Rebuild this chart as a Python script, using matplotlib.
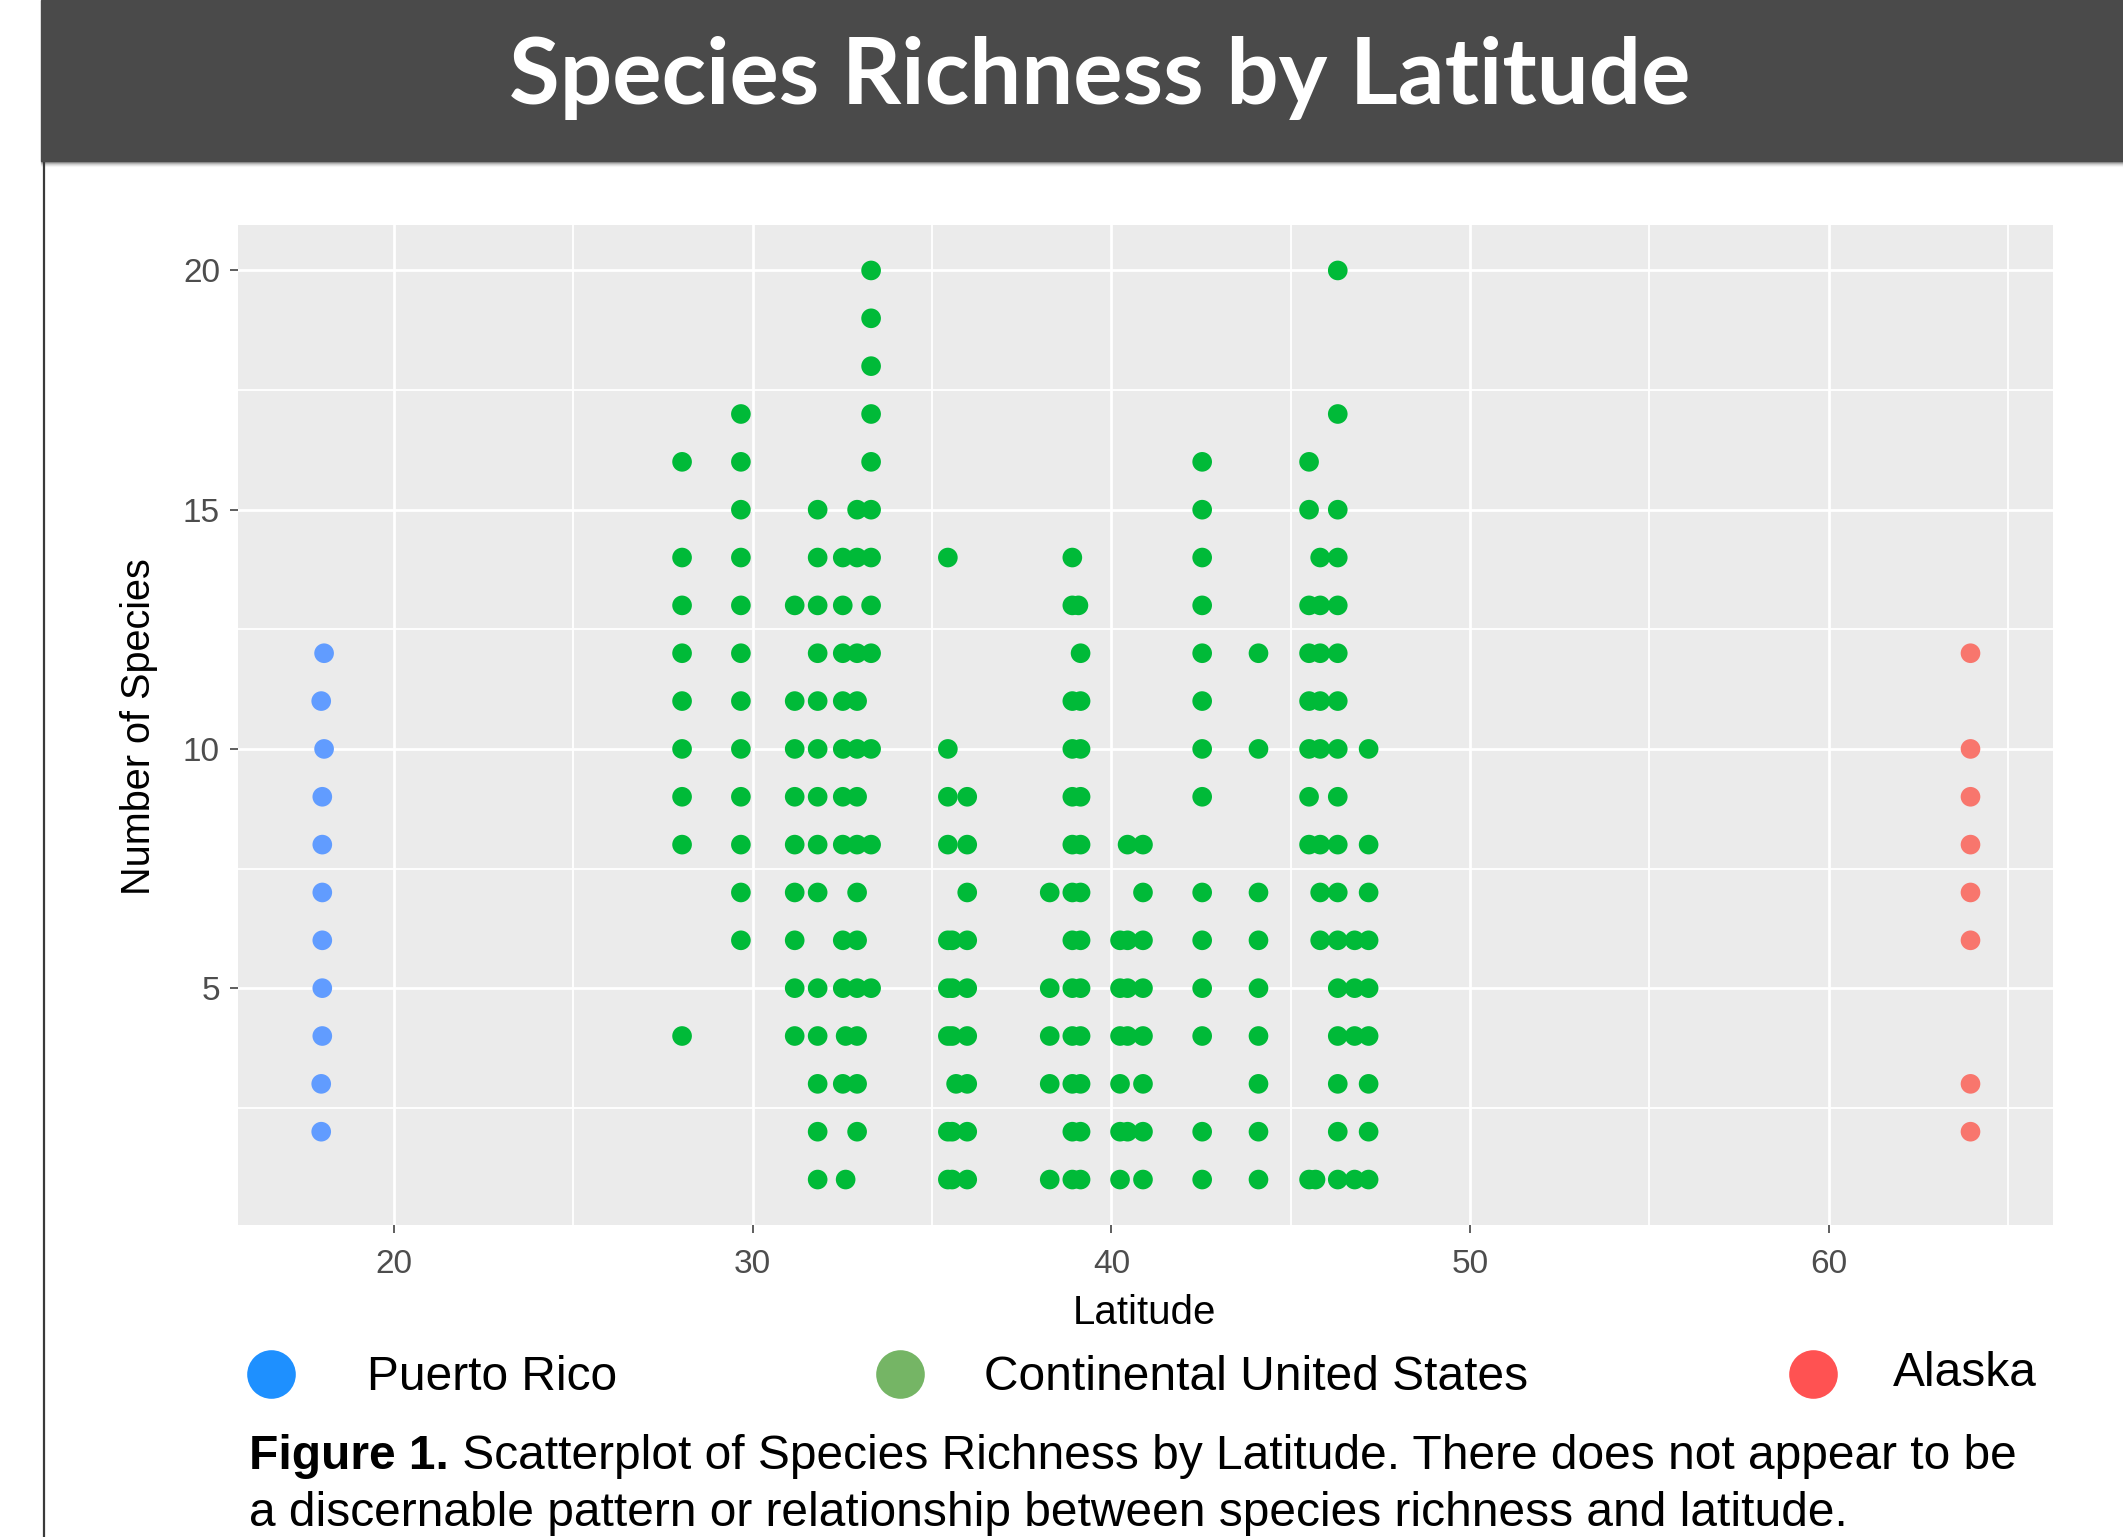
import matplotlib
matplotlib.use("Agg")
import matplotlib.pyplot as plt
from matplotlib.patches import Rectangle
from matplotlib.lines import Line2D
from matplotlib.ticker import MultipleLocator

W, H = 2123, 1537
DPI = 100

# ---------------- data ----------------
pr_lat = [18.05, 17.97, 18.05, 18.0, 18.0, 18.0, 18.0, 18.0, 18.0, 17.97, 17.97]
pr_richness = [12, 11, 10, 9, 8, 7, 6, 5, 4, 3, 2]

ak_lat = [63.95, 63.95, 63.95, 63.95, 63.95, 63.95, 63.95, 63.95]
ak_richness = [12, 10, 9, 8, 7, 6, 3, 2]

cont_columns = {
    28.03: [16, 14, 13, 12, 11, 10, 9, 8, 4],
    29.67: [17, 16, 15, 14, 13, 12, 11, 10, 9, 8, 7, 6],
    31.17: [13, 11, 10, 9, 8, 7, 6, 5, 4],
    31.81: [15, 14, 13, 12, 11, 10, 9, 8, 7, 5, 4, 3, 2, 1],
    32.51: [14, 13, 12, 11, 10, 9, 8, 6, 5, 3],
    32.59: [4, 1],
    32.91: [15, 14, 12, 11, 10, 9, 8, 7, 6, 5, 4, 3, 2],
    33.30: [20, 19, 18, 17, 16, 15, 14, 13, 12, 10, 8, 5],
    35.44: [14, 10, 9, 8, 6, 5, 4, 2, 1],
    35.56: [6, 5, 4, 2, 1],
    35.67: [3],
    35.98: [9, 8, 7, 6, 5, 4, 3, 2, 1],
    38.28: [7, 5, 4, 3, 1],
    38.91: [14, 13, 11, 10, 9, 8, 7, 6, 5, 4, 3, 2, 1],
    39.08: [13],
    39.14: [12, 11, 10, 9, 8, 7, 6, 5, 4, 3, 2, 1],
    40.24: [6, 5, 4, 3, 2, 1],
    40.45: [8, 6, 5, 4, 2],
    40.88: [8, 7, 6, 5, 4, 3, 2, 1],
    42.53: [16, 15, 14, 13, 12, 11, 10, 9, 7, 6, 5, 4, 2, 1],
    44.10: [12, 10, 7, 6, 5, 4, 3, 2, 1],
    45.51: [16, 15, 13, 12, 11, 10, 9, 8, 1],
    45.69: [1],
    45.82: [14, 13, 12, 11, 10, 8, 7, 6],
    46.31: [20, 17, 15, 14, 13, 12, 11, 10, 9, 8, 7, 6, 5, 4, 3, 2, 1],
    46.78: [6, 5, 4, 1],
    47.17: [10, 8, 7, 6, 5, 4, 3, 2, 1],
}
cont_lat = []
cont_richness = []
for lat, vals in cont_columns.items():
    for v in vals:
        cont_lat.append(lat)
        cont_richness.append(v)

x_ticks = [20, 30, 40, 50, 60]
y_ticks = [5, 10, 15, 20]
legend_labels = ["Puerto Rico", "Continental United States", "Alaska"]

title = "Species Richness by Latitude"
caption_bold = "Figure 1."
caption_line1 = " Scatterplot of Species Richness by Latitude. There does not appear to be"
caption_line2 = "a discernable pattern or relationship between species richness and latitude."

# ---------------- figure ----------------
fig = plt.figure(figsize=(W / DPI, H / DPI), dpi=DPI)
fig.patch.set_facecolor("white")

def fx(px):
    return px / W

def fy(py):
    return 1 - py / H

# title bar with shadow
for i, a in enumerate([0.18, 0.12, 0.07, 0.04, 0.02]):
    fig.patches.append(Rectangle((fx(41), fy(161 + i + 1)), fx(W), 1 / H,
                                 transform=fig.transFigure, color="black",
                                 alpha=a, zorder=0))
fig.patches.append(Rectangle((fx(41), fy(161)), fx(W - 41), 161 / H,
                             transform=fig.transFigure, color="#4a4a4a", zorder=1))
fig.lines.append(Line2D([fx(44), fx(44)], [0, fy(161)], transform=fig.transFigure,
                        color="#3a3a3a", lw=1.6, zorder=1))
fig.text(fx(1100), fy(104), title, color="white", fontsize=66.5, fontweight="bold",
         family="Lato", ha="center", va="baseline", zorder=3)

# axes
ax = fig.add_axes([fx(238), fy(1225), fx(2053 - 238), (1225 - 225) / H])
ax.set_facecolor("#EBEBEB")
for s in ax.spines.values():
    s.set_visible(False)
ax.set_xlim(15.65, 66.25)
ax.set_ylim(0.05, 20.95)
ax.xaxis.set_minor_locator(MultipleLocator(5))
ax.yaxis.set_minor_locator(MultipleLocator(2.5))
ax.set_xticks(x_ticks)
ax.set_yticks(y_ticks)
ax.grid(which="major", color="white", lw=2.0)
ax.grid(which="minor", color="white", lw=1.3)
ax.set_axisbelow(True)
ax.tick_params(which="major", length=6, width=1.1, color="#333333",
               labelsize=24, labelcolor="#4D4D4D")
ax.tick_params(axis="x", which="major", pad=11)
ax.tick_params(axis="y", which="major", pad=7)
ax.tick_params(which="minor", length=0)
for lab in ax.get_xticklabels() + ax.get_yticklabels():
    lab.set_family("Liberation Sans")

ax.scatter(pr_lat, pr_richness, s=200, color="#619CFF", edgecolors="none", zorder=3)
ax.scatter(cont_lat, cont_richness, s=200, color="#00BA38", edgecolors="none", zorder=3)
ax.scatter(ak_lat, ak_richness, s=200, color="#F8766D", edgecolors="none", zorder=3)

fig.text(fx(1144), fy(1313), "Latitude", fontsize=29, family="Liberation Sans",
         ha="center", va="center")
fig.text(fx(139), fy(727), "Number of Species", fontsize=28.5, family="Liberation Sans",
         ha="center", va="center", rotation=90)

# custom legend row
leg_colors = ["#1E90FF", "#75B565", "#FF5252"]
leg_marker_x = [271, 900, 1813]
leg_text_x = [367, 984, 1893]
leg_y = [1378, 1378, 1373]
for c, mx, tx, ly, lab in zip(leg_colors, leg_marker_x, leg_text_x, leg_y, legend_labels):
    fig.lines.append(Line2D([fx(mx)], [fy(1374)], transform=fig.transFigure,
                            marker="o", markersize=35, color=c, markeredgewidth=0,
                            linestyle="none"))
    fig.text(fx(tx), fy(ly), lab, fontsize=34.5, family="Liberation Sans",
             ha="left", va="center")

# caption
tb = fig.text(fx(249), fy(1469), caption_bold, fontsize=34.5, fontweight="bold",
              family="Liberation Sans", ha="left", va="baseline")
fig.canvas.draw()
bb = tb.get_window_extent(renderer=fig.canvas.get_renderer())
fig.text(bb.x1 / W, fy(1469), caption_line1, fontsize=34.5, family="Liberation Sans",
         ha="left", va="baseline")
fig.text(fx(249), fy(1526), caption_line2, fontsize=34.5, family="Liberation Sans",
         ha="left", va="baseline")

fig.savefig("out.png", dpi=DPI)
